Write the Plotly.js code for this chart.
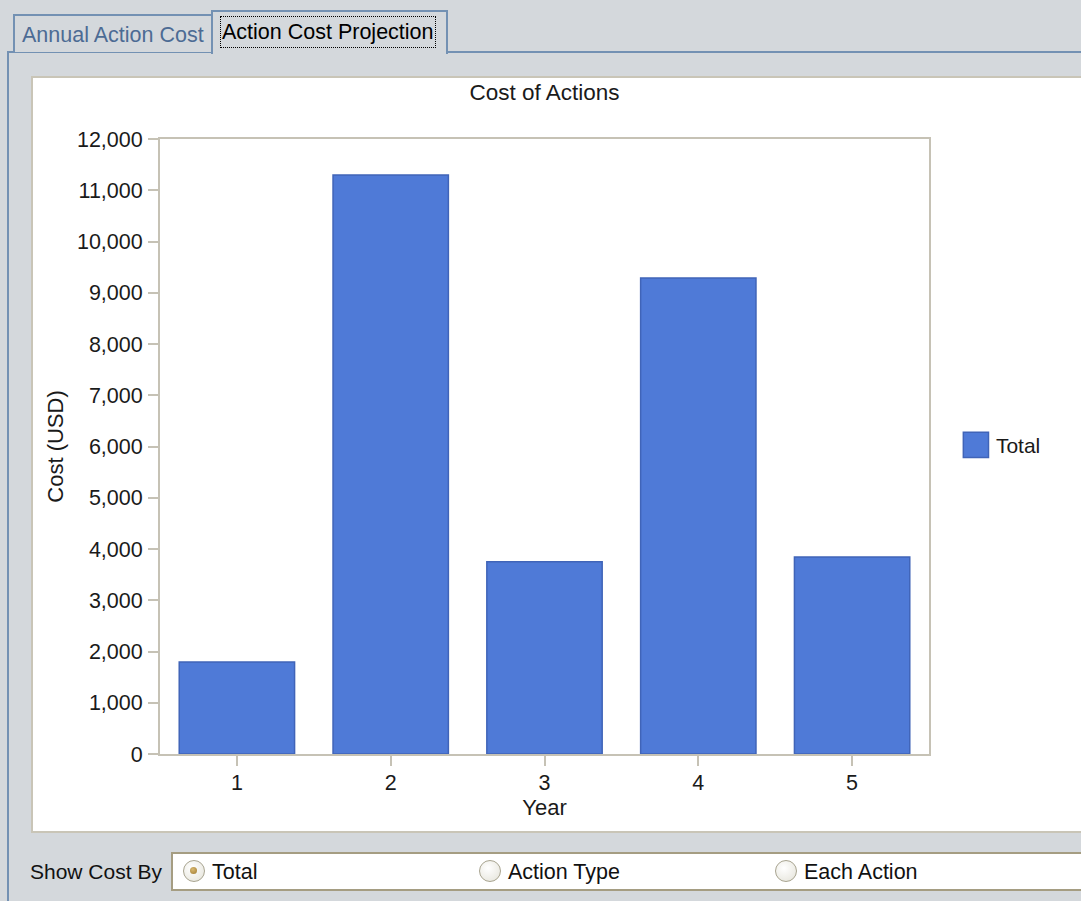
<!DOCTYPE html>
<html>
<head>
<meta charset="utf-8">
<script src="https://cdn.plot.ly/plotly-3.0.1.min.js"></script>
<style>
  html, body { margin:0; padding:0; }
  body { width:1081px; height:901px; overflow:hidden; background:#d4d8dc; position:relative;
         font-family:"Liberation Sans", Arial, sans-serif; }
  .abs { position:absolute; box-sizing:border-box; }
  #panel { left:7px; top:51px; width:1090px; height:900px; border-left:2px solid #7391b3; border-top:2px solid #7391b3; }
  #tab1 { left:13px; top:14px; width:200px; height:38px; border:2px solid #7391b3; border-bottom:none;
          color:#4c6b94; font-size:21.5px; padding-left:7px; line-height:38px; background:#d4d8dc; white-space:nowrap; }
  #tab2 { left:211px; top:10px; width:237px; height:44px; border:2px solid #7391b3; border-bottom:none;
          background:#d4d8dc; z-index:3; }
  #tab2 span { position:absolute; left:8px; top:5px; height:30px; line-height:30px; padding:0 1px;
          outline:1px dotted #000; color:#000; font-size:21.5px; white-space:nowrap; }
  #white { left:31px; top:76px; width:1060px; height:757px; background:#fff;
           border:2px solid #c9c5b7; border-right:none; }
  #chart { left:33px; top:78px; width:1048px; height:753px; }
  #showby { left:30px; top:858px; font-size:21px; color:#111; line-height:28px; }
  #group { left:171px; top:852px; width:920px; height:39px; background:#fff; border:2px solid #a59d82; }
  .radio { position:absolute; top:6px; width:22px; height:22px; border-radius:50%; box-sizing:border-box;
           border:1.5px solid #a8a490; background:radial-gradient(circle at 40% 35%, #ffffff 0%, #ecebe4 70%, #d9d6c8 100%); }
  .radio.sel::after { content:""; position:absolute; left:6px; top:6px; width:7px; height:7px; border-radius:50%;
           background:radial-gradient(circle at 40% 35%, #d8b870, #a07a30); }
  .rlabel { position:absolute; top:4px; font-size:21.5px; color:#111; line-height:28px; white-space:nowrap; }
</style>
</head>
<body>
<div id="panel" class="abs"></div>
<div id="tab1" class="abs">Annual Action Cost</div>
<div id="tab2" class="abs"><span>Action Cost Projection</span></div>
<div id="white" class="abs"></div>
<div id="chart" class="abs"></div>
<div id="showby" class="abs">Show Cost By</div>
<div id="group" class="abs">
  <div class="radio sel" style="left:10px"></div><div class="rlabel" style="left:39px">Total</div>
  <div class="radio" style="left:306px"></div><div class="rlabel" style="left:335px">Action Type</div>
  <div class="radio" style="left:602px"></div><div class="rlabel" style="left:631px">Each Action</div>
</div>
<script>
const years = ["1", "2", "3", "4", "5"];
const totalCost = [1795, 11300, 3750, 9290, 3845];
const seriesName = "Total";
const chartTitle = "Cost of Actions";
const xTitle = "Year";
const yTitle = "Cost (USD)";

const axisColor = "#c6c2b5";
const fontFam = "Liberation Sans, Arial, sans-serif";

const data = [{
  type: "bar",
  x: years,
  y: totalCost,
  name: seriesName,
  width: 0.75,
  marker: { color: "#4f7ad7", line: { color: "#4064b8", width: 1.5 } },
  showlegend: true
}];

const layout = {
  width: 1048, height: 753,
  margin: { l: 127, r: 152, t: 61, b: 77 },
  paper_bgcolor: "#ffffff",
  plot_bgcolor: "#ffffff",
  font: { family: fontFam, size: 21, color: "#1a1a1a" },
  title: { text: chartTitle, x: 0.5, xref: "paper", xanchor: "center",
           y: 1 - 14/753, yref: "container", yanchor: "middle",
           font: { size: 22.5, color: "#1a1a1a" } },
  showlegend: true,
  legend: { x: 1.035, xanchor: "left", y: 0.502, yanchor: "middle",
            font: { size: 21, color: "#1a1a1a" }, bgcolor: "rgba(0,0,0,0)" },
  bargap: 0.25,
  xaxis: {
    type: "category",
    range: [-0.5, 4.5],
    showline: true, mirror: true, linecolor: axisColor, linewidth: 2,
    ticks: "outside", ticklen: 10, tickwidth: 2, tickcolor: axisColor,
    showgrid: false, zeroline: false,
    tickfont: { size: 21.5 },
    ticklabelstandoff: -2,
    title: { text: xTitle, standoff: 0, font: { size: 22 } },
    automargin: false
  },
  yaxis: {
    range: [0, 12000],
    dtick: 1000, tick0: 0,
    tickformat: ",d",
    showline: true, mirror: true, linecolor: axisColor, linewidth: 2,
    ticks: "outside", ticklen: 10, tickwidth: 2, tickcolor: axisColor,
    showgrid: false, zeroline: false,
    tickfont: { size: 21.5 },
    ticklabelstandoff: 1,
    title: { text: yTitle, standoff: 7, font: { size: 22 } },
    automargin: false
  }
};

Plotly.newPlot("chart", data, layout, { displayModeBar: false, staticPlot: true }).then(() => {
  document.querySelectorAll("#chart .legendpoints path").forEach(p => {
    const t = p.getAttribute("transform") || "";
    p.setAttribute("transform", t + " scale(2.1)");
    p.style.strokeWidth = "0.7px";
  });
});
</script>
</body>
</html>
